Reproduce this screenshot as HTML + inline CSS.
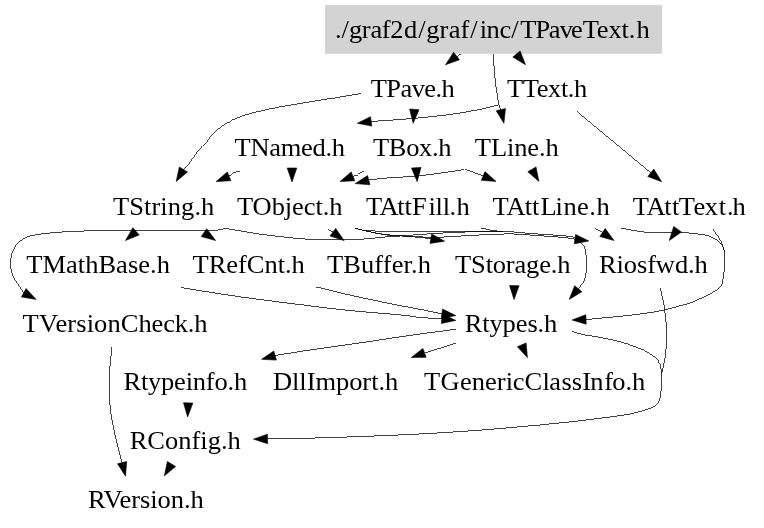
<!DOCTYPE html>
<html><head><meta charset="utf-8"><title>TPaveText.h include graph</title>
<style>
html,body{margin:0;padding:0;background:#fff;}
svg{display:block;will-change:transform;}
text{font-family:"Liberation Serif",serif;font-size:26.5px;fill:#000;}
.e{fill:none;stroke:#000;stroke-width:0.75;shape-rendering:crispEdges;}
.a{fill:#000;stroke:#000;stroke-width:0.6;}
</style></head><body>
<svg width="764" height="528" viewBox="0 0 764 528">
<rect x="0" y="0" width="764" height="528" fill="#fff"/>
<rect x="325" y="5" width="337" height="48.8" fill="#d3d3d3"/>

<g class="e">
<path d="M461.0 53.3L456.5 56.1"/>
<path d="M493.0 53.5C493.4 58.2 494.6 74.8 495.4 82.0C496.2 89.2 497.1 93.3 497.6 97.0C498.1 100.7 498.1 101.9 498.6 104.0C499.1 106.1 500.5 108.7 500.9 109.6"/>
<path d="M360.8 93.6C359.0 93.9 358.6 94.0 350.0 95.4C341.4 96.8 320.2 100.1 309.3 101.9C298.4 103.7 292.7 104.6 284.4 106.1C276.1 107.6 266.6 109.4 259.5 111.1C252.4 112.8 247.3 114.3 242.1 116.1C236.9 117.9 232.7 119.7 228.5 122.0C224.3 124.3 220.5 127.1 217.0 130.2C213.5 133.3 210.6 136.8 207.3 140.5C204.0 144.2 200.6 147.9 197.3 152.1C194.0 156.3 189.7 162.9 187.4 165.8C185.1 168.7 184.1 168.9 183.4 169.5"/>
<path d="M497.6 105.0C495.7 105.5 489.6 107.1 486.0 108.0C482.4 108.9 480.9 109.2 475.7 110.2C470.5 111.2 461.7 112.8 454.7 113.8C447.7 114.8 440.8 115.6 433.8 116.4C426.8 117.2 419.8 117.9 412.8 118.5C405.8 119.1 398.8 119.6 391.9 120.1C385.0 120.6 374.6 121.2 371.2 121.4"/>
<path d="M577.0 111.5L650.8 172.8"/>
<path d="M239.9 171.4C239.3 171.5 237.5 171.5 236.3 171.8C235.1 172.1 233.8 172.6 232.6 173.4C231.4 174.2 229.7 175.8 229.1 176.3"/>
<path d="M363.8 171.4C363.0 171.7 360.3 172.7 359.1 173.3C357.9 173.9 357.5 174.7 356.5 175.2C355.5 175.7 353.6 176.2 353.0 176.4"/>
<path d="M464.3 169.4C462.4 169.7 456.7 170.7 453.0 171.3C449.3 171.9 448.0 172.1 442.0 172.9C436.0 173.7 425.3 175.3 417.0 176.1C408.7 176.9 399.4 177.1 392.2 177.6C385.0 178.1 377.9 178.9 374.0 179.3C370.1 179.7 369.6 180.0 368.8 180.2"/>
<path d="M464.7 169.0L483.1 175.9"/>
<path d="M260.0 234.2C256.7 233.6 245.7 231.7 240.0 230.8C234.3 229.9 230.2 228.9 225.7 228.8C221.2 228.8 220.6 230.2 213.0 230.5C205.4 230.8 198.1 230.5 180.0 230.5C161.9 230.5 122.2 230.6 104.7 230.7C87.2 230.8 83.8 231.0 75.0 231.3C66.2 231.7 58.5 232.2 52.0 232.8C45.5 233.4 40.3 234.0 36.0 234.8C31.7 235.6 29.2 236.0 26.0 237.5C22.8 239.0 19.4 241.2 17.0 244.0C14.6 246.8 12.9 250.6 11.8 254.0C10.7 257.4 10.5 261.5 10.5 264.7C10.5 267.9 11.1 270.3 12.0 273.0C12.9 275.7 13.7 277.7 15.7 281.0C17.7 284.3 22.5 290.7 23.8 292.7"/>
<path d="M260.0 234.2C266.5 234.9 289.0 237.8 299.0 238.6C309.0 239.4 310.2 239.2 320.0 239.3C329.8 239.4 347.2 239.7 357.7 239.3C368.2 239.0 375.1 237.8 382.8 237.2C390.5 236.6 395.9 236.3 403.8 235.7C411.7 235.1 421.3 234.4 430.0 233.8C438.7 233.2 447.7 232.7 456.0 232.3C464.3 231.9 472.2 231.8 480.0 231.6C487.8 231.4 499.2 231.4 503.0 231.4"/>
<path d="M328.1 229.1L332.9 232.2"/>
<path d="M355.2 228.4C359.8 229.4 374.7 232.9 382.8 234.2C390.9 235.4 395.8 235.2 403.8 235.9C411.8 236.6 426.3 238.2 430.8 238.7"/>
<path d="M355.2 228.4C359.8 229.4 374.7 233.1 382.8 234.4C390.9 235.7 396.8 235.7 403.8 236.1C410.8 236.5 418.9 236.9 425.0 237.1C431.1 237.3 434.9 237.3 440.5 237.1C446.1 236.9 452.7 236.4 458.8 236.1C464.9 235.8 470.9 235.4 477.0 235.1C483.1 234.8 489.3 234.4 495.4 234.2C501.5 234.0 508.0 233.9 513.8 234.0C519.6 234.1 525.0 234.7 530.0 235.0C535.0 235.3 538.0 235.6 543.8 236.0C549.6 236.4 559.5 237.1 564.7 237.6C569.9 238.1 573.2 238.8 574.9 239.1"/>
<path d="M355.2 228.4C357.3 228.8 360.5 230.2 368.0 230.7C375.5 231.2 384.7 231.2 400.0 231.3C415.3 231.4 442.8 231.3 460.0 231.3C477.2 231.3 493.2 231.2 503.0 231.4C512.8 231.6 514.5 232.2 519.0 232.5C523.5 232.8 525.9 233.1 530.0 233.4C534.1 233.7 538.0 234.0 543.8 234.4C549.6 234.8 559.5 235.3 564.7 235.9C569.9 236.5 572.2 236.6 575.0 237.8C577.8 239.0 579.8 241.0 581.5 243.0C583.2 245.0 584.4 246.2 585.2 249.7C586.1 253.2 586.5 259.9 586.6 264.0C586.7 268.1 586.2 271.2 585.8 274.0C585.4 276.8 585.3 278.5 584.0 281.0C582.7 283.5 579.2 287.5 578.3 288.8"/>
<path d="M481.0 227.9C483.0 228.3 489.1 229.9 492.8 230.5C496.5 231.1 501.3 231.2 503.0 231.4"/>
<path d="M595.0 228.7L602.5 232.5"/>
<path d="M621.3 228.0C623.4 228.4 629.5 229.8 634.0 230.5C638.5 231.2 641.2 232.0 648.6 232.3C656.0 232.6 669.4 231.9 678.5 232.3C687.6 232.7 697.8 233.9 703.4 234.8C709.0 235.7 709.5 236.5 712.0 237.5C714.5 238.5 716.5 239.6 718.3 241.0C720.0 242.4 721.5 244.1 722.5 246.0C723.5 247.9 724.1 249.1 724.5 252.2C724.9 255.3 725.1 259.6 724.8 264.6C724.5 269.6 723.3 278.3 722.5 282.0C721.7 285.7 721.1 285.6 720.0 287.0C718.9 288.4 719.4 288.6 715.8 290.7C712.2 292.8 703.3 297.3 698.4 299.5C693.5 301.7 693.5 302.0 686.6 304.0C679.7 306.0 666.8 309.5 657.0 311.4C647.2 313.3 637.5 314.4 628.0 315.5C618.5 316.6 607.0 317.5 600.0 318.2C593.0 318.9 588.3 319.3 586.0 319.5"/>
<path d="M712.8 229.0C714.1 231.0 718.8 237.1 720.8 241.0C722.8 244.9 723.9 250.3 724.5 252.2"/>
<path d="M181.0 287.6C188.2 288.7 210.8 292.4 224.0 294.4C237.2 296.4 240.7 297.0 260.0 299.5C279.3 302.0 316.7 306.9 340.0 309.5C363.3 312.1 386.7 313.6 400.0 314.9C413.3 316.2 413.0 316.8 420.0 317.4C427.0 318.0 438.2 318.6 441.9 318.8"/>
<path d="M316.0 286.9C321.1 288.1 336.1 292.0 346.8 294.4C357.5 296.8 371.1 299.6 380.0 301.5C388.9 303.4 393.3 304.3 400.0 305.6C406.7 306.9 413.0 307.9 420.0 309.3C427.0 310.7 438.3 313.0 441.9 313.8"/>
<path d="M456.3 329.2C449.1 330.2 429.7 332.6 412.8 335.0C395.9 337.4 372.3 341.1 355.2 343.6C338.1 346.1 323.4 348.0 310.0 350.0C296.6 352.0 280.9 354.6 275.1 355.5"/>
<path d="M456.0 342.8L424.5 352.8"/>
<path d="M572.0 331.3C574.1 331.9 579.9 334.0 584.6 335.0C589.3 336.0 592.9 335.8 600.0 337.3C607.1 338.8 619.0 341.2 627.0 343.8C635.0 346.4 642.7 349.8 648.0 352.7C653.3 355.6 656.5 358.0 658.8 361.5C661.1 365.0 661.1 370.0 661.6 373.9C662.1 377.8 661.8 380.9 661.5 385.0C661.2 389.1 660.9 395.2 659.9 398.6C658.9 402.1 657.8 403.8 655.3 405.7C652.8 407.6 649.7 408.5 645.0 410.0C640.3 411.5 636.2 412.9 627.0 414.5C617.8 416.1 601.8 418.0 590.0 419.5C578.2 421.0 573.7 421.6 556.3 423.3C538.9 425.0 509.2 427.9 485.7 429.7C462.1 431.5 440.9 432.9 415.0 434.2C389.1 435.5 354.6 436.8 330.0 437.6C305.4 438.4 277.9 438.7 267.5 438.9"/>
<path d="M660.3 288.3C661.0 291.7 663.5 300.7 664.6 308.5C665.7 316.3 666.5 327.1 666.6 335.0C666.7 342.9 666.0 349.7 665.2 356.2C664.4 362.7 662.2 370.9 661.6 373.9"/>
<path d="M112.0 346.9C111.6 351.6 109.7 365.3 109.4 375.0C109.1 384.7 109.2 395.6 110.0 405.0C110.8 414.4 112.4 422.5 114.2 431.2C116.0 439.9 119.3 452.2 120.6 457.4C121.9 462.6 121.8 461.8 122.1 462.6"/>
</g>
<g class="a">
<polygon points="445.5,64.7 453.6,52.3 459.5,59.8"/>
<polygon points="525.5,64.7 512.8,57.1 520.1,50.9"/>
<polygon points="503.9,123.3 496.2,110.7 505.5,108.6"/>
<polygon points="176.2,181.5 179.3,167.0 187.5,171.9"/>
<polygon points="357.3,123.3 370.5,116.7 371.8,126.1"/>
<polygon points="413.2,123.3 409.6,109.0 419.0,109.7"/>
<polygon points="661.6,181.7 647.8,176.5 653.8,169.1"/>
<polygon points="216.1,181.6 227.3,171.9 230.9,180.7"/>
<polygon points="292.0,182.0 287.2,168.0 296.8,168.0"/>
<polygon points="340.0,181.6 351.2,171.9 354.8,180.8"/>
<polygon points="355.2,183.6 367.6,175.6 369.9,184.8"/>
<polygon points="417.2,181.7 411.5,168.0 421.0,167.4"/>
<polygon points="496.0,181.4 481.3,180.3 485.0,171.6"/>
<polygon points="538.9,181.4 527.8,171.7 536.0,166.9"/>
<polygon points="125.5,240.5 132.9,227.7 139.2,234.9"/>
<polygon points="215.6,240.5 201.3,236.6 206.7,228.7"/>
<polygon points="36.1,299.4 21.5,296.9 26.1,288.5"/>
<polygon points="344.1,240.6 330.0,236.0 335.7,228.4"/>
<polygon points="444.6,241.2 430.0,243.4 431.7,234.0"/>
<polygon points="588.8,241.0 574.3,243.8 575.6,234.4"/>
<polygon points="569.2,299.4 574.7,285.7 581.9,291.8"/>
<polygon points="614.0,240.5 599.8,236.5 605.2,228.6"/>
<polygon points="669.3,240.5 673.7,226.4 681.4,232.0"/>
<polygon points="572.0,320.0 585.8,314.7 586.2,324.2"/>
<polygon points="455.8,320.4 441.3,323.5 442.4,314.1"/>
<polygon points="455.8,315.6 441.3,318.5 442.5,309.1"/>
<polygon points="514.0,299.6 509.6,285.5 519.1,285.7"/>
<polygon points="261.6,359.3 273.8,351.0 276.4,360.1"/>
<polygon points="411.3,357.5 422.9,348.4 426.1,357.3"/>
<polygon points="527.4,357.6 517.4,346.7 526.1,342.9"/>
<polygon points="253.5,439.1 267.4,434.2 267.6,443.7"/>
<polygon points="187.6,416.9 183.5,402.7 192.9,403.1"/>
<polygon points="125.5,476.2 117.5,463.8 126.7,461.5"/>
<polygon points="164.3,475.9 167.4,461.5 175.6,466.4"/>
</g>
<g transform="scale(1,0.97)">
<text x="334.98 341.62 348.99 361.65 370.48 381.85 390.38 403.94 418.19 426.37 439.62 448.76 460.42 470.26 479.83 486.61 499.56 511.23 520.20 535.59 548.74 559.70 570.96 582.72 596.67 608.43 621.49 628.86 636.50" y="39.48">./graf2d/graf/inc/TPaveText.h</text>
<text x="370.67" y="99.59" textLength="84.18" lengthAdjust="spacing">TPave.h</text>
<text x="506.93" y="99.59" textLength="80.40" lengthAdjust="spacing">TText.h</text>
<text x="234.57" y="160.41" textLength="110.50" lengthAdjust="spacing">TNamed.h</text>
<text x="372.93" y="160.41" textLength="78.69" lengthAdjust="spacing">TBox.h</text>
<text x="474.83" y="160.41" textLength="83.97" lengthAdjust="spacing">TLine.h</text>
<text x="112.94" y="221.24" textLength="101.38" lengthAdjust="spacing">TString.h</text>
<text x="236.94" y="221.24" textLength="105.65" lengthAdjust="spacing">TObject.h</text>
<text x="365.95 379.62 397.34 404.51 412.08 428.52 435.49 442.76 449.63 456.46" y="221.24">TAttFill.h</text>
<text x="492.63 506.45 524.72 532.14 540.46 555.59 563.51 577.11 589.32 596.50" y="221.24">TAttLine.h</text>
<text x="632.68 646.44 664.36 671.92 678.78 693.51 704.86 718.70 726.96 732.48" y="221.24">TAttText.h</text>
<text x="26.25" y="281.24" textLength="143.66" lengthAdjust="spacing">TMathBase.h</text>
<text x="192.60" y="281.24" textLength="112.21" lengthAdjust="spacing">TRefCnt.h</text>
<text x="327.04" y="281.24" textLength="103.92" lengthAdjust="spacing">TBuffer.h</text>
<text x="455.08" y="281.24" textLength="115.36" lengthAdjust="spacing">TStorage.h</text>
<text x="598.97" y="281.24" textLength="108.87" lengthAdjust="spacing">Riosfwd.h</text>
<text x="22.57 39.05 55.45 67.31 76.24 86.66 94.13 107.49 120.74 138.41 151.56 163.22 174.78 187.84 194.37" y="341.96">TVersionCheck.h</text>
<text x="464.70" y="341.96" textLength="92.63" lengthAdjust="spacing">Rtypes.h</text>
<text x="123.43" y="402.27" textLength="123.77" lengthAdjust="spacing">Rtypeinfo.h</text>
<text x="272.91" y="402.27" textLength="125.38" lengthAdjust="spacing">DllImport.h</text>
<text x="424.12 440.47 460.06 471.69 485.11 496.74 505.83 512.87 524.39 542.53 549.17 561.50 571.78 582.17 590.16 604.18 612.17 625.39 631.99" y="402.27">TGenericClassInfo.h</text>
<text x="129.68" y="462.68" textLength="111.10" lengthAdjust="spacing">RConfig.h</text>
<text x="87.97" y="523.30" textLength="115.82" lengthAdjust="spacing">RVersion.h</text>
</g>
</svg>
</body></html>
